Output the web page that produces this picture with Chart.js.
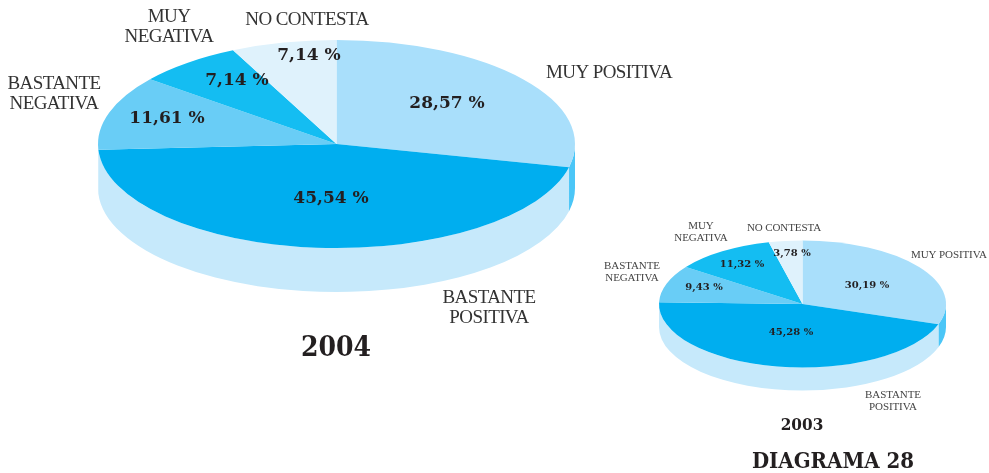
<!DOCTYPE html>
<html><head><meta charset="utf-8">
<style>
html,body{margin:0;padding:0;background:#fff;width:989px;height:473px;overflow:hidden}
canvas{position:absolute;display:block}
</style>
<script src="https://cdn.jsdelivr.net/npm/chart.js@4"></script>
</head><body>
<canvas id="c2004" style="left:0;top:-100px;width:673px;height:488px" width="673" height="488"></canvas>
<canvas id="c2003" style="left:600px;top:134px;width:405px;height:340px" width="405" height="340"></canvas>
<script>
const categories = ['MUY POSITIVA','BASTANTE POSITIVA','BASTANTE NEGATIVA','MUY NEGATIVA','NO CONTESTA'];
const values2004 = [28.57,45.54,11.61,7.14,7.14];
const values2003 = [30.19,45.28,9.43,11.32,3.78];
const topColors  = ['#a9dffb','#00aeef','#69cdf6','#14bdf2','#dff2fc'];
const sideColors = ['#4bc6f7','#c6e9fb','#c6e9fb','#c6e9fb','#c6e9fb'];
const titleColor = '#231f20';

const layout2004 = {
  originX:0, originY:-100, radius:238.5, squash:104/238.5, depth:44,
  valueFont:'bold 17px "DejaVu Serif"', catFont:'19px "Liberation Serif"', catSpacing:'-0.6px', catColor:'#333',
  valuePos:[[447,104],[331,199],[167,119],[237,81],[309,56]],
  catPos:[[[609,73]],[[489,298],[489,318]],[[54,84],[54,104]],[[169,17],[169,37]],[[307,20]]],
  catLines:[['MUY POSITIVA'],['BASTANTE','POSITIVA'],['BASTANTE','NEGATIVA'],['MUY','NEGATIVA'],['NO CONTESTA']],
  titles:[{text:'2004',x:336,y:349,font:'bold 28px "DejaVu Serif Condensed", "DejaVu Serif"'}]
};
const layout2003 = {
  originX:600, originY:134, radius:143.5, squash:63.5/143.5, depth:23,
  valueFont:'bold 10px "DejaVu Serif"', catFont:'11px "Liberation Serif"', catSpacing:'-0.1px', catColor:'#444',
  valuePos:[[867,285],[791,332],[704,287],[742,264],[792,253]],
  catPos:[[[949,255]],[[893,395],[893,407]],[[632,266],[632,278]],[[701,226],[701,238]],[[784,228]]],
  catLines:[['MUY POSITIVA'],['BASTANTE','POSITIVA'],['BASTANTE','NEGATIVA'],['MUY','NEGATIVA'],['NO CONTESTA']],
  titles:[{text:'2003',x:802,y:426,font:'bold 17px "DejaVu Serif Condensed", "DejaVu Serif"'},
          {text:'DIAGRAMA 28',x:833,y:462,font:'bold 22px "DejaVu Serif Condensed", "DejaVu Serif"'}]
};

const pie3d = {
  id:'pie3d',
  beforeDatasetsDraw(chart,args,opts){
    const ctx = chart.ctx, arcs = chart.getDatasetMeta(0).data, L = opts.layout;
    const cx = arcs[0].x, cy = arcs[0].y;
    ctx.save();
    ctx.translate(cx,cy); ctx.scale(1,L.squash); ctx.translate(-cx,-cy);
    const dz = L.depth / L.squash;
    arcs.forEach((a,i)=>{
      let s = a.startAngle, e = a.endAngle;
      const two = Math.PI*2;
      while (s > Math.PI) { s -= two; e -= two; }
      s = Math.max(s,0); e = Math.min(e,Math.PI);
      if (e <= s) return;
      ctx.beginPath();
      ctx.arc(cx,cy,a.outerRadius,s,e,false);
      ctx.arc(cx,cy+dz,a.outerRadius,e,s,true);
      ctx.closePath();
      ctx.fillStyle = sideColors[i];
      ctx.fill();
    });
  },
  afterDatasetsDraw(chart,args,opts){
    const ctx = chart.ctx, L = opts.layout, vals = chart.data.datasets[0].data;
    ctx.restore();
    ctx.save();
    ctx.textAlign='center'; ctx.textBaseline='middle';
    ctx.fillStyle = titleColor; ctx.font = L.valueFont;
    vals.forEach((v,i)=>{
      const p = L.valuePos[i];
      ctx.fillText(v.toFixed(2).replace('.',',')+' %', p[0]-L.originX, p[1]-L.originY);
    });
    ctx.fillStyle = L.catColor; ctx.font = L.catFont; ctx.letterSpacing = L.catSpacing;
    L.catLines.forEach((lines,i)=>lines.forEach((t,j)=>{
      const p = L.catPos[i][j];
      ctx.fillText(t, p[0]-L.originX, p[1]-L.originY);
    }));
    ctx.letterSpacing = '0px';
    ctx.fillStyle = titleColor;
    L.titles.forEach(t=>{ ctx.font=t.font; ctx.fillText(t.text,t.x-L.originX,t.y-L.originY); });
    ctx.restore();
  }
};

function makePie(id,values,L){
  return new Chart(document.getElementById(id),{
    type:'pie',
    data:{labels:categories,datasets:[{data:values,backgroundColor:topColors,borderWidth:0,clip:false}]},
    options:{
      responsive:false, animation:false, radius:L.radius, rotation:0,
      layout:{padding:0},
      plugins:{legend:{display:false},tooltip:{enabled:false},pie3d:{layout:L}}
    },
    plugins:[pie3d]
  });
}
makePie('c2004',values2004,layout2004);
makePie('c2003',values2003,layout2003);
</script>
</body></html>
